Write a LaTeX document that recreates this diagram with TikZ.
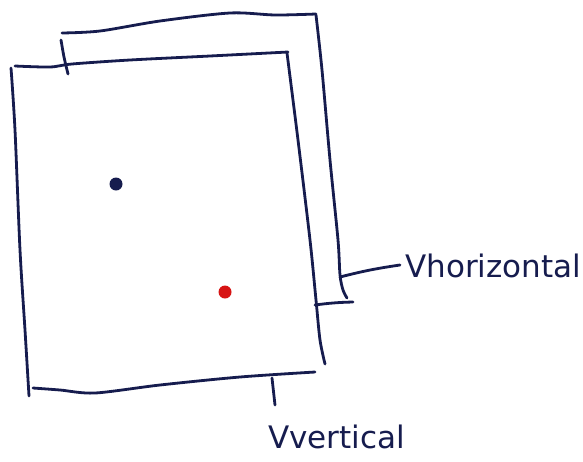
\documentclass[tikz,border=0pt]{standalone}
\usepackage{fontspec}
\newfontfamily\handfont{DejaVu Sans}
\definecolor{ink}{RGB}{22,28,78}
\definecolor{redink}{RGB}{215,20,20}
\begin{document}
\begin{tikzpicture}[x=1pt,y=-1pt,
  stroke/.style={draw=ink,line width=2.8pt,line cap=round,line join=round},
  dotmark/.style={ellipse,inner sep=0pt,minimum width=12pt,minimum height=14pt},
  lbl/.style={font=\handfont\fontsize{31}{31}\selectfont,text=ink,inner sep=0pt,anchor=base west}]
\useasboundingbox (0,0) rectangle (583,461);
% back sheet
\draw[stroke] plot[smooth] coordinates {(62,33) (100,31) (160,21) (230,13) (275,15) (316,14)};
\draw[stroke] plot[smooth] coordinates {(61,40) (64,57) (68,74)};
\draw[stroke] plot[smooth] coordinates {(316,15) (322,70) (330,160) (338,240) (340,275) (343,290) (347,298)};
% front sheet
\draw[stroke] plot[smooth] coordinates {(15,66) (50,67) (72,64) (130,60) (210,56) (288,52)};
\draw[stroke] plot[smooth] coordinates {(11,68) (15,130) (20,250) (25,330) (29,396)};
\draw[stroke] plot[smooth] coordinates {(287,53) (298,140) (310,240) (316,300) (320,340) (325,364)};
\draw[stroke] plot[smooth] coordinates {(33,388) (60,390) (95,393) (160,385) (240,377) (315,372)};
% back sheet bottom stub
\coordinate (bs1) at (315,305);
\coordinate (bs2) at (353,302);
\draw[stroke] (bs1) to[bend left=3] (bs2);
% dots
\node[circle,inner sep=0pt,minimum size=13pt,fill=ink] (d1) at (116,184) {};
\node[circle,inner sep=0pt,minimum size=13pt,fill=redink] (d2) at (225,292) {};
% labels
\node[lbl] (vh) at (405,277) {Vhorizontal};
\node[lbl] (vv) at (268,448) {Vvertical};
\coordinate (hA) at (340,277);
\coordinate (hB) at (400,265);
\draw[stroke] (hA) to[bend left=3] (hB);
\coordinate (vA) at (272,378);
\coordinate (vB) at (275,405);
\draw[stroke] (vA) -- (vB);
\end{tikzpicture}
\end{document}
